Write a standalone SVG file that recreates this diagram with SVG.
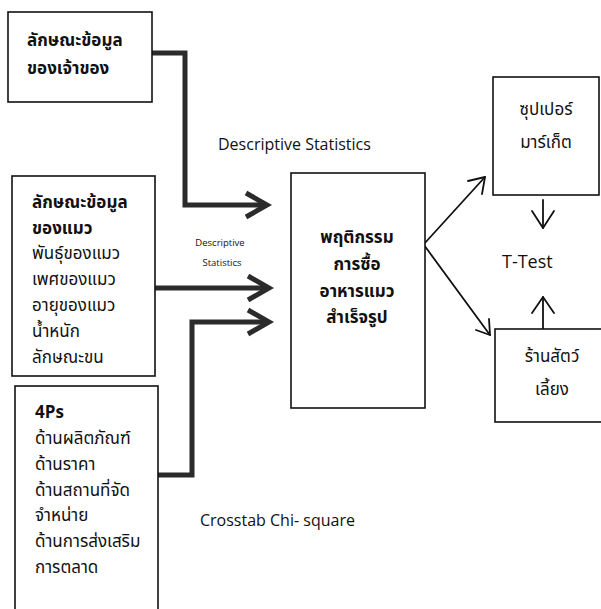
<svg xmlns="http://www.w3.org/2000/svg" width="601" height="609" viewBox="0 0 601 609">
<style>
.box{fill:#fff;stroke:#111;stroke-width:1.6}
.th{font-family:"Noto Sans Thai","Noto Sans","DejaVu Sans",sans-serif;font-size:17px;fill:#111}
.b{font-weight:bold}
.en{font-family:"Open Sans","Noto Sans",sans-serif;fill:#111}
.thick{fill:none;stroke:#2b2b2b;stroke-width:5;stroke-linejoin:miter}
.thin{fill:none;stroke:#111;stroke-width:1.8;stroke-linecap:round;stroke-linejoin:round}
</style>
<rect width="601" height="609" fill="#fff"/>
<g id="connectors">
<path class="thick" d="M152,53 H185 V205 H266"/>
<path class="thick" d="M246,193 L267,205 L246,217"/>
<path class="thick" d="M155,288 H268"/>
<path class="thick" d="M248,276 L269,288 L248,300"/>
<path class="thick" d="M158,475 H192 V322 H268"/>
<path class="thick" d="M248,310 L269,322 L248,334"/>
<path class="thin" d="M424,244 L485,177"/>
<path class="thin" d="M468,181 L485,177 L482,194"/>
<path class="thin" d="M424,245 L490,335"/>
<path class="thin" d="M476,330 L490,335 L489,319"/>
<path class="thin" d="M543,200 V228"/>
<path class="thin" d="M532,211 L543,228 L554,211"/>
<path class="thin" d="M543,329 V297"/>
<path class="thin" d="M532,313 L543,297 L554,313"/>
</g>
<g id="owner">
<rect class="box" x="8" y="12" width="144" height="90"/>
<text class="th b" x="27" y="46">ลักษณะข้อมูล</text>
<text class="th b" x="27" y="74">ของเจ้าของ</text>
</g>
<g id="cat">
<rect class="box" x="12" y="176" width="143" height="200"/>
<text class="th b" x="32" y="208">ลักษณะข้อมูล</text>
<text class="th b" x="32" y="234">ของแมว</text>
<text class="th" x="32" y="259">พันธุ์ของแมว</text>
<text class="th" x="32" y="285">เพศของแมว</text>
<text class="th" x="32" y="311">อายุของแมว</text>
<text class="th" x="32" y="337">น้ำหนัก</text>
<text class="th" x="32" y="363">ลักษณะขน</text>
</g>
<g id="fourps">
<rect class="box" x="15" y="386" width="143" height="240"/>
<text class="th b" x="35" y="418">4Ps</text>
<text class="th" x="35" y="444">ด้านผลิตภัณฑ์</text>
<text class="th" x="35" y="470">ด้านราคา</text>
<text class="th" x="35" y="496">ด้านสถานที่จัด</text>
<text class="th" x="35" y="521">จำหน่าย</text>
<text class="th" x="35" y="547">ด้านการส่งเสริม</text>
<text class="th" x="35" y="573">การตลาด</text>
</g>
<g id="behavior">
<rect class="box" x="291" y="173" width="134" height="235"/>
<text class="th b" x="357" y="243" text-anchor="middle">พฤติกรรม</text>
<text class="th b" x="357" y="270" text-anchor="middle">การซื้อ</text>
<text class="th b" x="357" y="297" text-anchor="middle">อาหารแมว</text>
<text class="th b" x="357" y="323" text-anchor="middle">สำเร็จรูป</text>
</g>
<g id="supermarket">
<rect class="box" x="493" y="77" width="106" height="118"/>
<text class="th" x="546" y="115" text-anchor="middle">ซุปเปอร์</text>
<text class="th" x="546" y="148" text-anchor="middle">มาร์เก็ต</text>
</g>
<g id="petshop">
<rect class="box" x="495" y="329" width="120" height="93"/>
<text class="th" x="552" y="362" text-anchor="middle">ร้านสัตว์</text>
<text class="th" x="552" y="395" text-anchor="middle">เลี้ยง</text>
</g>
<g id="labels">
<text class="en" x="218" y="150" font-size="16">Descriptive Statistics</text>
<text class="en" x="220" y="246" font-size="9.5" text-anchor="middle">Descriptive</text>
<text class="en" x="222" y="266" font-size="9.5" text-anchor="middle">Statistics</text>
<text class="en" x="502" y="268" font-size="18">T-Test</text>
<text class="en" x="200" y="526" font-size="16">Crosstab Chi- square</text>
</g>
</svg>
